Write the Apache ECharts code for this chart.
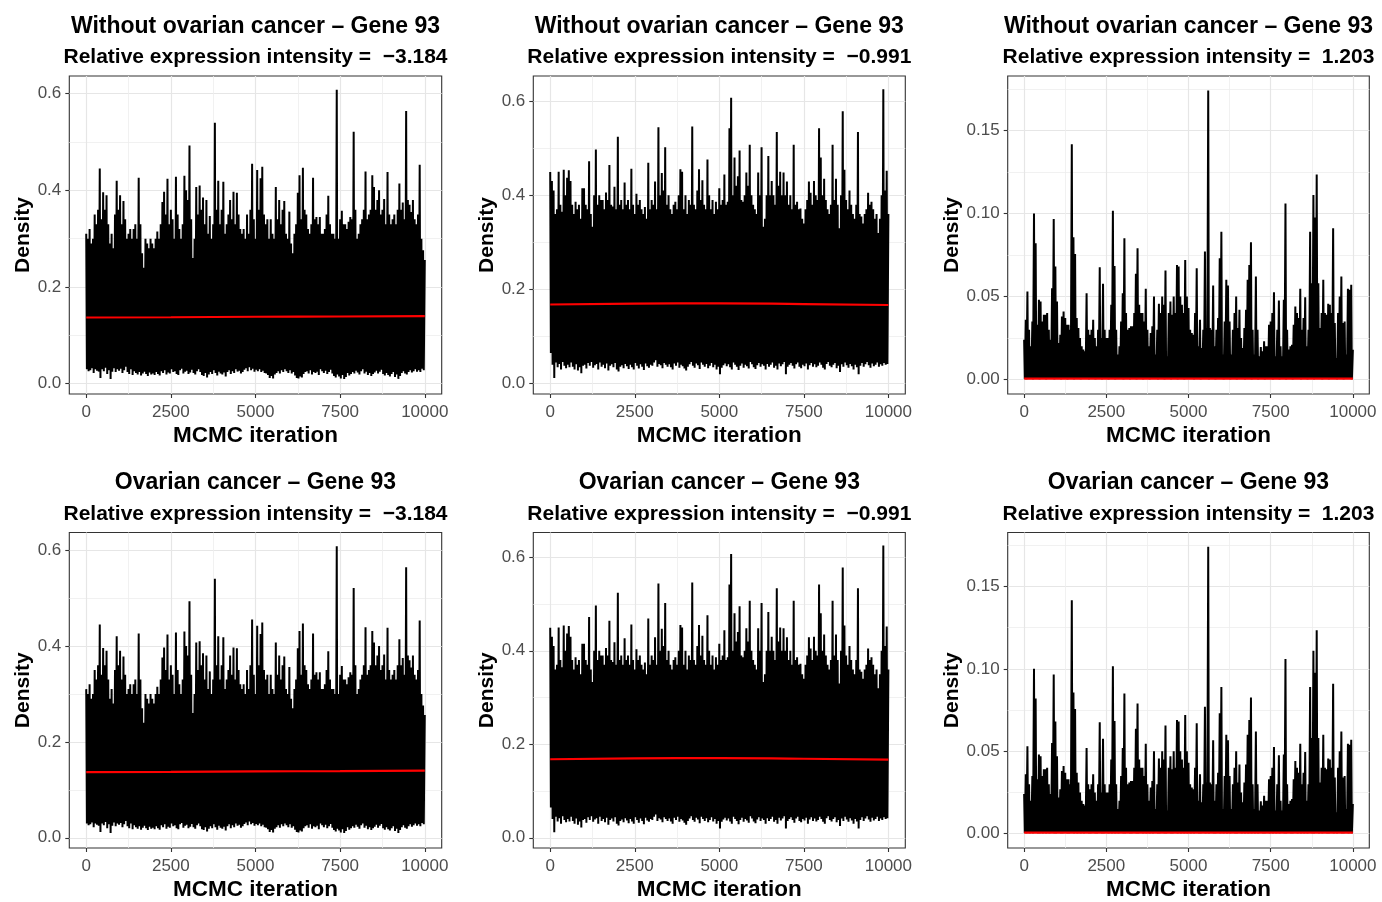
<!DOCTYPE html>
<html><head><meta charset="utf-8">
<script src="https://cdn.jsdelivr.net/npm/echarts@6/dist/echarts.min.js"></script>
<style>html,body{margin:0;padding:0;background:#fff}#c{width:1382px;height:902px}</style>
</head><body><div id="c"></div>
<script>
// ---------- data ----------
const groups = ["Without ovarian cancer", "Ovarian cancer"];
const gene = "Gene 93";
const intensities = ["\u22123.184", "\u22120.991", "1.203"];
const xTicks = [0, 2500, 5000, 7500, 10000];
const xMinor = [1250, 3750, 6250, 8750];
const yTicks1 = [0, 0.2, 0.4, 0.6];
const yMinor1 = [0.1, 0.3, 0.5];
const yTicks2 = [0, 0.2, 0.4, 0.6];
const yMinor2 = [0.1, 0.3, 0.5];
const yTicks3 = [0, 0.05, 0.10, 0.15];
const yMinor3 = [0.025, 0.075, 0.125, 0.175];
// trace: local maxima at iterations 0,50,...,10000; local minima at 20,70,...,9970
const hi1 = [0.31,0.30,0.32,0.29,0.30,0.35,0.33,0.36,0.445,0.34,
0.396,0.36,0.39,0.33,0.29,0.31,0.28,0.35,0.42,0.36,
0.39,0.33,0.378,0.34,0.30,0.31,0.32,0.30,0.32,0.33,
0.30,0.426,0.33,0.27,0.24,0.30,0.29,0.28,0.30,0.29,
0.28,0.30,0.315,0.30,0.33,0.376,0.397,0.35,0.424,0.33,
0.36,0.34,0.30,0.428,0.35,0.32,0.30,0.33,0.43,0.40,
0.38,0.493,0.34,0.26,0.30,0.407,0.35,0.41,0.36,0.385,
0.33,0.38,0.31,0.347,0.30,0.33,0.54,0.36,0.42,0.33,
0.36,0.418,0.31,0.33,0.35,0.38,0.34,0.397,0.33,0.395,
0.35,0.32,0.31,0.32,0.30,0.35,0.31,0.36,0.455,0.34,
0.30,0.442,0.36,0.425,0.449,0.35,0.33,0.34,0.30,0.34,
0.31,0.30,0.407,0.34,0.38,0.33,0.36,0.378,0.31,0.30,
0.356,0.29,0.27,0.31,0.33,0.395,0.431,0.34,0.447,0.36,
0.35,0.32,0.31,0.33,0.426,0.34,0.345,0.33,0.345,0.31,
0.31,0.32,0.35,0.389,0.33,0.31,0.31,0.30,0.608,0.30,
0.34,0.358,0.33,0.33,0.32,0.335,0.345,0.34,0.521,0.36,
0.30,0.31,0.33,0.34,0.36,0.439,0.34,0.35,0.36,0.431,
0.407,0.36,0.38,0.40,0.35,0.36,0.382,0.33,0.438,0.35,
0.33,0.34,0.35,0.33,0.36,0.414,0.36,0.375,0.34,0.564,
0.38,0.37,0.355,0.38,0.34,0.33,0.35,0.453,0.30,0.276,0.256];
const lo1 = [0.030,0.026,0.028,0.032,0.022,0.030,0.027,0.025,0.012,0.030,0.026,0.033,0.020,0.028,0.010,0.025,0.032,0.024,0.030,0.027,
0.031,0.022,0.028,0.035,0.024,0.020,0.030,0.018,0.026,0.022,0.019,0.024,0.017,0.021,0.025,0.020,0.016,0.023,0.019,0.021,
0.018,0.024,0.020,0.017,0.026,0.022,0.028,0.019,0.023,0.021,0.030,0.024,0.026,0.020,0.018,0.028,0.031,0.021,0.025,0.027,
0.020,0.023,0.029,0.022,0.019,0.026,0.030,0.024,0.018,0.016,0.022,0.013,0.019,0.024,0.020,0.028,0.022,0.017,0.025,0.021,
0.019,0.023,0.015,0.024,0.028,0.020,0.026,0.022,0.030,0.025,0.027,0.021,0.024,0.029,0.032,0.026,0.034,0.028,0.031,0.025,
0.029,0.026,0.030,0.024,0.027,0.022,0.021,0.018,0.012,0.016,0.011,0.019,0.022,0.026,0.021,0.028,0.024,0.030,0.026,0.022,
0.028,0.021,0.024,0.017,0.012,0.011,0.015,0.013,0.020,0.024,0.026,0.021,0.028,0.019,0.024,0.022,0.025,0.018,0.030,0.026,
0.022,0.027,0.020,0.024,0.029,0.021,0.016,0.013,0.019,0.015,0.011,0.018,0.010,0.014,0.022,0.017,0.020,0.024,0.021,0.027,
0.023,0.019,0.026,0.030,0.021,0.025,0.018,0.022,0.016,0.020,0.023,0.027,0.021,0.025,0.029,0.020,0.017,0.022,0.018,0.015,
0.020,0.024,0.014,0.019,0.010,0.016,0.022,0.026,0.021,0.019,0.024,0.028,0.023,0.026,0.030,0.025,0.028,0.024,0.031,0.028];
const hi2 = [0.449,0.43,0.41,0.36,0.37,0.45,0.38,0.365,0.454,0.40,
0.437,0.453,0.43,0.38,0.36,0.386,0.37,0.38,0.35,0.415,
0.415,0.38,0.37,0.472,0.36,0.333,0.40,0.497,0.38,0.40,
0.39,0.39,0.37,0.406,0.39,0.464,0.38,0.376,0.418,0.37,
0.524,0.38,0.39,0.37,0.427,0.38,0.39,0.37,0.456,0.38,
0.36,0.403,0.38,0.39,0.37,0.36,0.375,0.35,0.469,0.37,
0.39,0.38,0.429,0.37,0.544,0.40,0.447,0.41,0.502,0.38,
0.40,0.37,0.36,0.38,0.386,0.37,0.40,0.455,0.45,0.37,
0.40,0.36,0.39,0.38,0.546,0.38,0.37,0.41,0.455,0.39,
0.432,0.38,0.37,0.476,0.40,0.37,0.39,0.36,0.386,0.37,
0.415,0.38,0.39,0.444,0.38,0.386,0.542,0.607,0.40,0.48,
0.42,0.44,0.495,0.39,0.386,0.40,0.448,0.42,0.507,0.40,
0.38,0.37,0.36,0.448,0.40,0.502,0.333,0.35,0.40,0.483,
0.40,0.43,0.40,0.38,0.534,0.42,0.45,0.40,0.448,0.40,
0.429,0.38,0.40,0.37,0.507,0.38,0.386,0.37,0.372,0.35,
0.34,0.37,0.39,0.429,0.405,0.38,0.43,0.40,0.39,0.542,
0.48,0.40,0.435,0.39,0.37,0.36,0.38,0.507,0.39,0.435,
0.38,0.33,0.40,0.578,0.454,0.39,0.37,0.41,0.38,0.36,
0.35,0.38,0.534,0.36,0.355,0.34,0.36,0.37,0.405,0.38,
0.386,0.37,0.35,0.36,0.32,0.35,0.40,0.625,0.41,0.452,0.36];
const lo2 = [0.065,0.040,0.012,0.045,0.035,0.042,0.030,0.046,0.038,0.033,0.040,0.035,0.045,0.036,0.030,0.041,0.028,0.035,0.022,0.038,
0.040,0.032,0.044,0.038,0.046,0.034,0.039,0.042,0.030,0.045,0.036,0.040,0.033,0.043,0.028,0.038,0.041,0.035,0.044,0.030,
0.026,0.036,0.039,0.033,0.042,0.037,0.031,0.040,0.035,0.030,0.044,0.038,0.032,0.041,0.036,0.029,0.043,0.037,0.034,0.040,
0.038,0.045,0.050,0.036,0.042,0.039,0.033,0.044,0.040,0.036,0.041,0.035,0.030,0.043,0.038,0.045,0.034,0.040,0.037,0.032,
0.028,0.036,0.041,0.046,0.038,0.034,0.043,0.039,0.031,0.045,0.040,0.036,0.042,0.033,0.038,0.044,0.035,0.040,0.030,0.036,
0.020,0.034,0.039,0.043,0.037,0.041,0.035,0.030,0.045,0.040,0.036,0.029,0.038,0.043,0.034,0.040,0.037,0.032,0.046,0.041,
0.035,0.031,0.039,0.044,0.036,0.041,0.038,0.030,0.042,0.036,0.040,0.045,0.034,0.038,0.030,0.043,0.037,0.041,0.046,0.020,
0.036,0.040,0.044,0.038,0.032,0.041,0.045,0.036,0.033,0.040,0.037,0.043,0.030,0.039,0.044,0.036,0.041,0.035,0.038,0.045,
0.040,0.034,0.030,0.042,0.046,0.038,0.035,0.040,0.044,0.033,0.038,0.025,0.041,0.036,0.045,0.039,0.034,0.042,0.037,0.030,
0.040,0.035,0.020,0.038,0.044,0.036,0.041,0.046,0.039,0.034,0.043,0.037,0.040,0.045,0.036,0.041,0.038,0.044,0.040,0.042];
const hi3 = [0.024,0.036,0.053,0.030,0.020,0.035,0.100,0.082,0.033,0.048,
0.047,0.035,0.039,0.039,0.040,0.030,0.024,0.055,0.0966,0.068,
0.047,0.022,0.027,0.038,0.041,0.037,0.033,0.033,0.030,0.1416,
0.0856,0.0756,0.037,0.031,0.025,0.020,0.018,0.017,0.052,0.030,
0.027,0.030,0.036,0.025,0.020,0.030,0.0676,0.025,0.0576,0.030,
0.025,0.025,0.030,0.045,0.1016,0.0684,0.030,0.015,0.020,0.035,
0.052,0.085,0.040,0.030,0.031,0.032,0.032,0.040,0.0636,0.079,
0.045,0.040,0.040,0.035,0.0546,0.030,0.020,0.028,0.032,0.050,
0.015,0.030,0.0456,0.040,0.050,0.045,0.0656,0.014,0.040,0.047,
0.039,0.050,0.040,0.069,0.068,0.050,0.045,0.040,0.072,0.050,
0.043,0.030,0.028,0.027,0.040,0.067,0.020,0.036,0.019,0.030,
0.077,0.031,0.174,0.031,0.030,0.0566,0.020,0.030,0.037,0.073,
0.089,0.015,0.035,0.060,0.0566,0.035,0.015,0.030,0.040,0.050,
0.031,0.042,0.025,0.019,0.031,0.042,0.060,0.069,0.0826,0.030,
0.015,0.062,0.030,0.014,0.0196,0.017,0.023,0.020,0.020,0.033,
0.035,0.040,0.0526,0.014,0.030,0.0476,0.020,0.014,0.048,0.106,
0.030,0.018,0.020,0.021,0.033,0.044,0.040,0.037,0.0546,0.030,
0.037,0.0496,0.020,0.030,0.089,0.058,0.111,0.0976,0.1234,0.058,
0.031,0.040,0.060,0.040,0.039,0.0456,0.045,0.040,0.091,0.034,
0.013,0.040,0.050,0.062,0.034,0.035,0.015,0.0546,0.054,0.057,0.018];
const lo3 = [0.0004,0.0002,0.0006,0.0003,0.0005,0.0002,0.0004,0.0007,0.0003,0.0002,0.0005,0.0003,0.0004,0.0002,0.0006,0.0003,0.0004,0.0005,0.0002,0.0003,
0.0004,0.0006,0.0002,0.0003,0.0005,0.0004,0.0002,0.0003,0.0006,0.0004,0.0002,0.0005,0.0003,0.0004,0.0002,0.0006,0.0003,0.0004,0.0005,0.0002,
0.0003,0.0004,0.0006,0.0002,0.0003,0.0005,0.0004,0.0002,0.0003,0.0006,0.0004,0.0002,0.0005,0.0003,0.0004,0.0002,0.0006,0.0003,0.0004,0.0005,
0.0002,0.0003,0.0004,0.0006,0.0002,0.0003,0.0005,0.0004,0.0002,0.0003,0.0006,0.0004,0.0002,0.0005,0.0003,0.0004,0.0002,0.0006,0.0003,0.0004,
0.0005,0.0002,0.0003,0.0004,0.0006,0.0002,0.0003,0.0005,0.0004,0.0002,0.0003,0.0006,0.0004,0.0002,0.0005,0.0003,0.0004,0.0002,0.0006,0.0003,
0.0004,0.0003,0.0005,0.0002,0.0004,0.0006,0.0003,0.0002,0.0005,0.0004,0.0003,0.0006,0.0002,0.0004,0.0005,0.0003,0.0002,0.0004,0.0006,0.0003,
0.0005,0.0002,0.0004,0.0003,0.0006,0.0002,0.0005,0.0004,0.0003,0.0002,0.0004,0.0006,0.0003,0.0005,0.0002,0.0004,0.0003,0.0006,0.0002,0.0005,
0.0003,0.0004,0.0002,0.0006,0.0005,0.0003,0.0002,0.0004,0.0005,0.0003,0.0006,0.0002,0.0004,0.0003,0.0005,0.0002,0.0006,0.0004,0.0003,0.0002,
0.0004,0.0005,0.0003,0.0002,0.0006,0.0004,0.0003,0.0005,0.0002,0.0004,0.0003,0.0006,0.0002,0.0005,0.0004,0.0003,0.0002,0.0006,0.0004,0.0003,
0.0005,0.0002,0.0004,0.0006,0.0003,0.0002,0.0005,0.0004,0.0003,0.0006,0.0002,0.0004,0.0005,0.0003,0.0002,0.0004,0.0006,0.0003,0.0005,0.0002];
// running mean (red line) at iterations 0, 2500, 5000, 7500, 10000
const meanIter = [0, 2500, 5000, 7500, 10000];
const mean1 = [0.137, 0.1375, 0.1385, 0.139, 0.140];
const mean2 = [0.168, 0.1700, 0.1705, 0.169, 0.167];
const mean3 = [0.0006, 0.0006, 0.0006, 0.0006, 0.0006];

// ---------- layout / style ----------
const FONT = "'Liberation Sans', Arial, Helvetica, sans-serif";
const colLeft = [69.3, 533.3, 1007.7];
const colWidth = [372.4, 372, 361.6];
const rowTop = [76, 532.5];
const panelH = 318;
const yRange = [[-0.0213, 0.6366], [-0.0219, 0.653], [-0.0087, 0.1827]];
const his = [hi1, hi2, hi3], los = [lo1, lo2, lo3], means = [mean1, mean2, mean3];
const yTicks = [yTicks1, yTicks2, yTicks3], yMinors = [yMinor1, yMinor2, yMinor3];
const yDec = [1, 1, 2];
const STEP = 50, LOOFF = 20;

function traceData(hi, lo) {
  const d = [];
  for (let k = 0; k < hi.length; k++) {
    d.push([k * STEP, hi[k]]);
    if (k < lo.length) d.push([k * STEP + LOOFF, lo[k]]);
  }
  return d;
}

const grid = [], xAxis = [], yAxis = [], series = [], title = [];
let g = 0;
for (let r = 0; r < 2; r++) {
  for (let c = 0; c < 3; c++) {
    grid.push({left: colLeft[c], top: rowTop[r], width: colWidth[c], height: panelH,
      show: true, borderColor: '#333333', borderWidth: 1.1, backgroundColor: '#fff'});
    xAxis.push({type: 'value', gridIndex: g, min: -500, max: 10500, position: 'bottom',
      axisLine: {show: false, onZero: false},
      axisTick: {show: true, length: 4, lineStyle: {color: '#333333', width: 1.1}, customValues: xTicks},
      axisLabel: {customValues: xTicks, color: '#4d4d4d', fontSize: 17, fontFamily: FONT, margin: 10,
        formatter: v => String(v)},
      splitLine: {show: true, lineStyle: {color: '#e6e6e6', width: 1.2}},
      name: 'MCMC iteration', nameLocation: 'middle', nameGap: 30,
      nameTextStyle: {color: '#000', fontSize: 22.5, fontWeight: 'bold', fontFamily: FONT}});
    xAxis.push({type: 'value', gridIndex: g, min: -500, max: 10500, position: 'bottom',
      axisLine: {show: false, onZero: false}, axisTick: {show: false, customValues: xMinor},
      axisLabel: {show: false, customValues: xMinor},
      splitLine: {show: true, lineStyle: {color: '#eeeeee', width: 0.8}}});
    yAxis.push({type: 'value', gridIndex: g, min: yRange[c][0], max: yRange[c][1], position: 'left',
      axisLine: {show: false, onZero: false},
      axisTick: {show: true, length: 4, lineStyle: {color: '#333333', width: 1.1}, customValues: yTicks[c]},
      axisLabel: {customValues: yTicks[c], color: '#4d4d4d', fontSize: 17, fontFamily: FONT, margin: 8,
        formatter: v => v.toFixed(yDec[c])},
      splitLine: {show: true, lineStyle: {color: '#e6e6e6', width: 1.2}},
      name: 'Density', nameLocation: 'middle', nameRotate: 90, nameGap: 36,
      nameTextStyle: {color: '#000', fontSize: 21, fontWeight: 'bold', fontFamily: FONT}});
    yAxis.push({type: 'value', gridIndex: g, min: yRange[c][0], max: yRange[c][1], position: 'left',
      axisLine: {show: false, onZero: false}, axisTick: {show: false, customValues: yMinors[c]},
      axisLabel: {show: false, customValues: yMinors[c]},
      splitLine: {show: true, lineStyle: {color: '#eeeeee', width: 0.8}}});

    series.push({type: 'line', xAxisIndex: 2 * g, yAxisIndex: 2 * g, data: traceData(his[c], los[c]),
      showSymbol: false, symbol: 'none', lineStyle: {color: '#000', width: 2.0}, sampling: null,
      animation: false, z: 2});
    series.push({type: 'line', xAxisIndex: 2 * g, yAxisIndex: 2 * g,
      data: meanIter.map((x, i) => [x, means[c][i]]), smooth: true,
      showSymbol: false, symbol: 'none', lineStyle: {color: '#ff0000', width: 2.2}, animation: false, z: 3});

    const cx = colLeft[c] + colWidth[c] / 2;
    title.push({text: groups[r] + ' \u2013 ' + gene, left: cx, top: rowTop[r] - 61, textAlign: 'center', padding: 0,
      textStyle: {color: '#000', fontSize: 23, fontWeight: 'bold', fontFamily: FONT}});
    title.push({text: 'Relative expression intensity =  ' + intensities[c], left: cx, top: rowTop[r] - 29,
      textAlign: 'center', padding: 0,
      textStyle: {color: '#000', fontSize: 21, fontWeight: 'bold', fontFamily: FONT}});
    g++;
  }
}

const chart = echarts.init(document.getElementById('c'), null, {renderer: 'canvas'});
chart.setOption({backgroundColor: '#fff', animation: false, title, grid, xAxis, yAxis, series});
</script>
</body></html>
